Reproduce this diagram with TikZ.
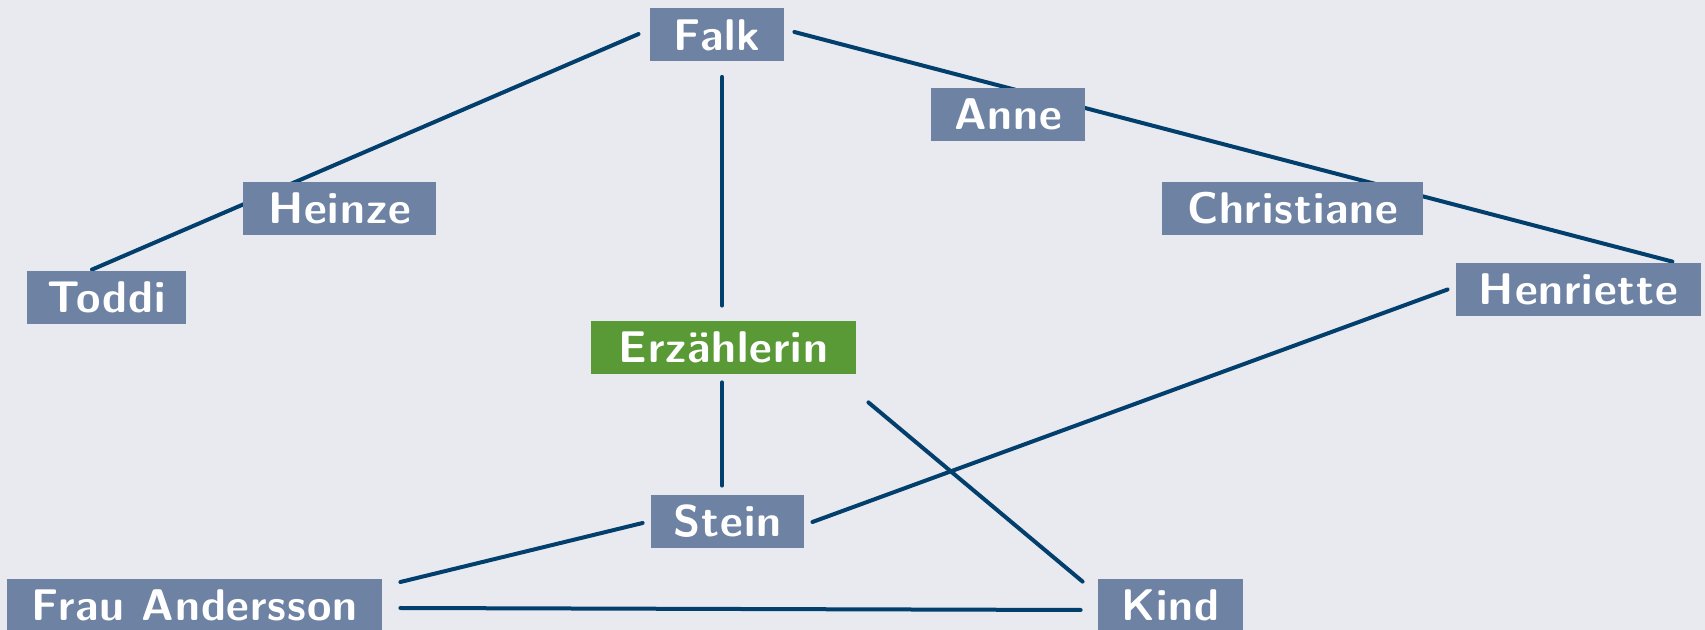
\documentclass[tikz,border=0pt]{standalone}
\usepackage{fontspec}
\newfontfamily\boxfont{Latin Modern Sans}[LetterSpace=2.0]
\usetikzlibrary{calc}
\pgfdeclarelayer{edgelayer}
\pgfsetlayers{edgelayer,main}
\definecolor{bgc}{HTML}{E9EAF0}
\definecolor{boxc}{HTML}{6E82A4}
\definecolor{erzc}{HTML}{599A36}
\definecolor{linec}{HTML}{023F6C}
\begin{document}
\begin{tikzpicture}[x=0.5pt,y=-0.5pt,
  person/.style={fill=boxc, text=white, font=\boxfont\bfseries\fontsize{22.2}{25}\selectfont,
    inner sep=0pt, minimum height=26.5pt, text height=15.2pt, text depth=0pt},
  narrator/.style={person, fill=erzc},
  link/.style={draw=linec, line width=2pt, line cap=round}]
\useasboundingbox (0,0) rectangle (1705,630);
\begin{pgfonlayer}{edgelayer}
\fill[bgc] (0,0) rectangle (1705,630);
\end{pgfonlayer}
\node[person, minimum width=67pt]    (falk)  at (717,35)      {Falk};
\node[person, minimum width=77pt]    (anne)  at (1008,114.5)  {Anne};
\node[person, minimum width=96.5pt]  (heinze) at (339.5,208.5) {Heinze};
\node[person, minimum width=130.5pt] (chris) at (1292.5,208.5) {Christiane};
\node[person, minimum width=79.5pt]  (toddi) at (106.5,297.5)  {Toddi};
\node[person, minimum width=122.5pt] (henr)  at (1578.5,289.5) {Henriette};
\node[narrator, minimum width=132.5pt] (erz) at (723.5,347.5)  {Erzählerin};
\node[person, minimum width=76.5pt]  (stein) at (727.5,521.5)  {Stein};
\node[person, minimum width=187.5pt] (frau)  at (194.5,605.5)  {Frau Andersson};
\node[person, minimum width=72.5pt]  (kind)  at (1170.5,605.5) {Kind};
\begin{pgfonlayer}{edgelayer}
\draw[link] ($(falk.west)+(-11,-1)$) -- ($(toddi.north)+(-14.5,-1)$);
\draw[link] ($(falk.south)+(5,15)$) -- ($(erz.north)+(-1.5,-15)$);
\draw[link] ($(falk.east)+(10,-3)$) -- ($(henr.north east)+(-29,-1)$);
\draw[link] ($(erz.south)+(-1.5,8)$) -- ($(stein.north)+(-5.5,-9)$);
\draw[link] ($(erz.south east)+(12,28)$) -- ($(kind.north west)+(-15,3)$);
\draw[link] ($(henr.west)+(-8,0)$) -- ($(stein.east)+(8,0.5)$);
\draw[link] ($(stein.west)+(-8,1.5)$) -- ($(frau.east)+(18,-23.5)$);
\draw[link] ($(frau.east)+(18,2.5)$) -- ($(kind.west)+(-17,4.5)$);
\end{pgfonlayer}
\end{tikzpicture}
\end{document}
